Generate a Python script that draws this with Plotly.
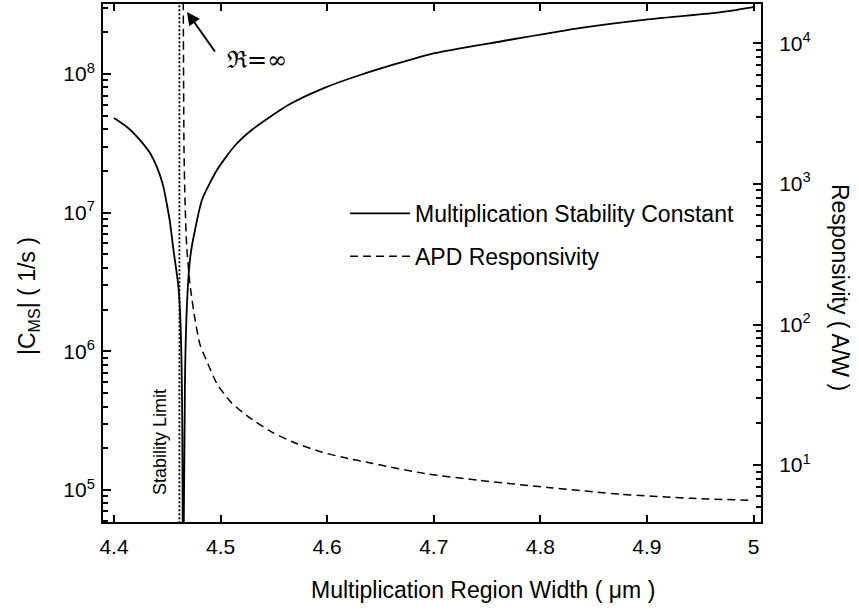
import plotly.graph_objects as go

# ---- data ----
# Multiplication stability constant |C_MS| (1/s), left axis
cms_x = [4.4, 4.4122, 4.4244, 4.4338, 4.4403, 4.4460, 4.4497, 4.4525, 4.4558, 4.4582,
         4.4603, 4.4619, 4.4629, 4.4635, 4.4641, 4.4648,
         4.4661, 4.4666, 4.4671, 4.4680, 4.4697, 4.4718, 4.4760, 4.4826, 4.4966, 4.5135,
         4.5304, 4.5639, 4.5975, 4.6310, 4.6979, 4.7649, 4.8320, 4.8990, 4.9660, 5.0]
cms_y = [4.82e7, 4.15e7, 3.34e7, 2.69e7, 2.13e7, 1.58e7, 1.14e7, 8.57e6, 5.38e6, 3.99e6,
         3.01e6, 1.99e6, 1.21e6, 7.35e5, 2.71e5, 2.0e4,
         1.95e5, 6.22e5, 1.02e6, 1.77e6, 3.27e6, 4.95e6, 7.50e6, 1.24e7, 2.03e7, 3.05e7,
         4.01e7, 6.0e7, 7.95e7, 9.84e7, 1.40e8, 1.73e8, 2.12e8, 2.47e8, 2.77e8, 3.04e8]

# APD responsivity (A/W), right axis
resp_x = [4.4649, 4.4657, 4.4666, 4.4682, 4.4713, 4.4760, 4.4807, 4.4873, 4.4966, 4.5103,
          4.5263, 4.5478, 4.5694, 4.5947, 4.6135, 4.6418, 4.6920, 4.7421, 4.8090, 4.8759,
          4.9428, 5.0]
resp_y = [3.0e4, 1780, 781, 361, 193, 109, 71.9, 54.4, 37.9, 27.7,
          22.0, 17.2, 14.4, 12.4, 11.4, 10.3, 8.7, 7.8, 6.9, 6.2,
          5.8, 5.6]

stability_limit = 4.4614

x_ticks = [4.4, 4.5, 4.6, 4.7, 4.8, 4.9, 5.0]
x_ticktext = ["4.4", "4.5", "4.6", "4.7", "4.8", "4.9", "5"]
left_exps = [5, 6, 7, 8]
right_exps = [1, 2, 3, 4]

LEFT_RANGE = [4.769, 8.505]
RIGHT_RANGE = [0.595, 4.28]

FONT = "Liberation Sans, Arial, Helvetica, sans-serif"


def minor_vals(lo, hi):
    return [k * 10.0 ** e for e in range(lo, hi + 1) for k in range(2, 10)]


fig = go.Figure()

fig.add_trace(go.Scatter(
    x=[stability_limit, stability_limit], y=[1e3, 1e10], mode="lines",
    line=dict(color="black", width=1.8, dash="2px,2px"),
    showlegend=False, hoverinfo="skip", yaxis="y"))

fig.add_trace(go.Scatter(
    x=cms_x, y=cms_y, mode="lines", name="Multiplication Stability Constant",
    line=dict(color="black", width=1.8, shape="spline", smoothing=0.6),
    legendgroup="a", yaxis="y"))

fig.add_trace(go.Scatter(
    x=resp_x, y=resp_y, mode="lines", name="APD Responsivity",
    line=dict(color="black", width=1.5, dash="8px,5px", shape="spline", smoothing=0.6),
    legendgroup="b", yaxis="y2"))

# empty traces so the minor-tick axes are drawn
fig.add_trace(go.Scatter(x=[None], y=[None], yaxis="y3", showlegend=False, hoverinfo="skip"))
fig.add_trace(go.Scatter(x=[None], y=[None], yaxis="y4", showlegend=False, hoverinfo="skip"))

axis_common = dict(showgrid=False, zeroline=False, showline=True, linecolor="black",
                   linewidth=2, ticks="inside", tickcolor="black", tickwidth=1.5,
                   tickfont=dict(family=FONT, size=21, color="black"))


def log_axis(exps):
    return dict(type="log", tickmode="array",
                tickvals=[10.0 ** e for e in exps],
                ticktext=["10<sup>%d</sup>" % e for e in exps], ticklen=8)


def minor_axis(rng, lo, hi, side):
    return dict(type="log", range=rng, overlaying="y", side=side, tickmode="array",
                tickvals=minor_vals(lo, hi), ticks="inside", ticklen=5, tickwidth=1.5,
                tickcolor="black", showticklabels=False, showline=False, showgrid=False,
                zeroline=False)


fig.update_layout(
    width=859, height=613,
    margin=dict(l=103, r=98, t=4, b=91, autoexpand=False),
    paper_bgcolor="white", plot_bgcolor="white",
    font=dict(family=FONT, color="black"),
    xaxis=dict(range=[4.3897, 5.007], tickvals=x_ticks, ticktext=x_ticktext,
               ticklen=7, mirror="ticks", ticklabelstandoff=5, **axis_common),
    yaxis=dict(range=LEFT_RANGE, ticklabelstandoff=2, **log_axis(left_exps), **axis_common),
    yaxis2=dict(range=RIGHT_RANGE, overlaying="y", side="right",
                ticklabelstandoff=12, **log_axis(right_exps), **axis_common),
    yaxis3=minor_axis(LEFT_RANGE, 4, 8, "left"),
    yaxis4=minor_axis(RIGHT_RANGE, 0, 4, "right"),
    legend=dict(x=(345 - 103) / 658, y=1 - (192 - 4) / 518, xanchor="left", yanchor="top",
                bgcolor="rgba(0,0,0,0)", font=dict(family=FONT, size=23, color="black"),
                itemwidth=60, traceorder="grouped", tracegroupgap=10),
    showlegend=True,
)

ann_font = dict(family=FONT, size=23, color="black")
fig.add_annotation(xref="paper", yref="paper", x=(483 - 103) / 658, y=1 - (590 - 4) / 518,
                   text="Multiplication Region Width ( \u03bcm )", showarrow=False,
                   font=ann_font, xanchor="center", yanchor="middle")
fig.add_annotation(xref="paper", yref="paper", x=(28 - 103) / 658, y=1 - (296 - 4) / 518,
                   text="|C<sub>MS</sub>| ( 1/s )", showarrow=False, textangle=-90,
                   font=ann_font, xanchor="center", yanchor="middle")
fig.add_annotation(xref="paper", yref="paper", x=(840 - 103) / 658, y=1 - (287 - 4) / 518,
                   text="Responsivity ( A/W )", showarrow=False, textangle=90,
                   font=ann_font, xanchor="center", yanchor="middle")
fig.add_annotation(xref="paper", yref="paper", x=(160 - 103) / 658, y=1 - (442 - 4) / 518,
                   text="Stability Limit", showarrow=False, textangle=-90,
                   font=dict(family=FONT, size=18, color="black"),
                   xanchor="center", yanchor="middle")
# arrow pointing to R = infinity
fig.add_annotation(xref="paper", yref="paper", x=(187 - 103) / 658, y=1 - (12 - 4) / 518,
                   text="", showarrow=True, ax=29, ay=41, arrowhead=2, arrowsize=1.3,
                   arrowwidth=2, arrowcolor="black")
fig.add_annotation(xref="paper", yref="paper", x=(257 - 103) / 658, y=1 - (60 - 4) / 518,
                   text="\u211c=\u221e", showarrow=False,
                   font=dict(family="DejaVu Serif, serif", size=24, color="black"),
                   xanchor="center", yanchor="middle")

fig.write_html("out.html", config={"displayModeBar": False},
               post_script="document.body.style.margin='0px';")
